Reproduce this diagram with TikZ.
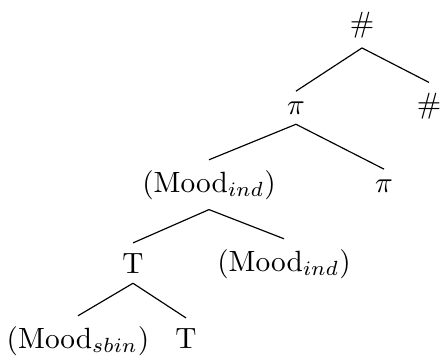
\documentclass[tikz,border=0pt]{standalone}
\usepackage{tikz}

\begin{document}
\begin{tikzpicture}[
    x=0.3413pt, y=-0.3413pt,
    every node/.style={font=\normalsize},
    lbl/.style={anchor=base, inner sep=3.5pt, outer sep=0pt},
    branch/.style={line width=0.4pt, black}]

  \useasboundingbox (0,0) rectangle (440,358);

  % level 1
  \node[lbl] (hTop)  at (362, 32)  {\#};
  % level 2
  \node[lbl] (piA)   at (296,114)  {$\pi$};
  \node[lbl] (hR)    at (429,113)  {\#};
  % level 3
  \node[lbl] (moodA) at (209,192)  {(Mood$_{ind}$)};
  \node[lbl] (piB)   at (384,192)  {$\pi$};
  % level 4
  \node[lbl] (tA)    at (133,273)  {T};
  \node[lbl] (moodB) at (284,271)  {(Mood$_{ind}$)};
  % level 5
  \node[lbl] (moodC) at ( 78,348)  {(Mood$_{sbin}$)};
  \node[lbl] (tB)    at (186,348)  {T};

  \draw[branch] (hTop.south)  -- (piA.north);
  \draw[branch] (hTop.south)  -- (hR.north);
  \draw[branch] (piA.south)   -- (moodA.north);
  \draw[branch] (piA.south)   -- (piB.north);
  \draw[branch] (moodA.south) -- (tA.north);
  \draw[branch] (moodA.south) -- (moodB.north);
  \draw[branch] (tA.south)    -- (moodC.north);
  \draw[branch] (tA.south)    -- (tB.north);
\end{tikzpicture}
\end{document}
